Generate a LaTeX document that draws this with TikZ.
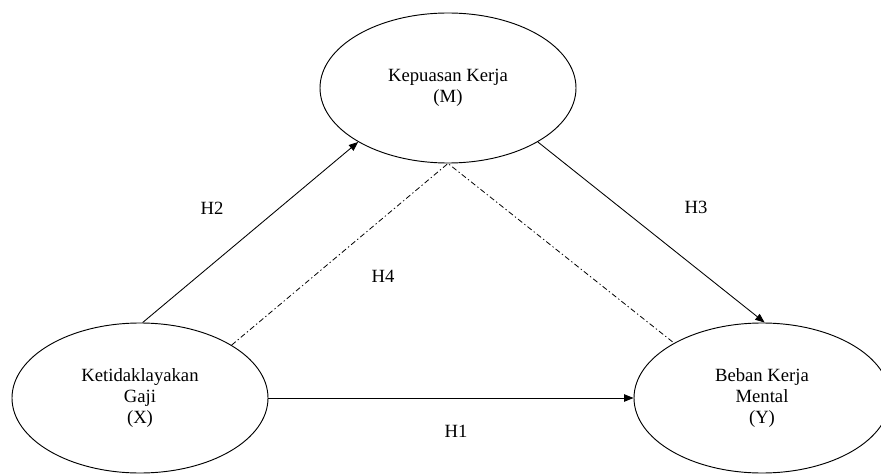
\documentclass[tikz,border=0pt]{standalone}
\usepackage{fontspec}
\setmainfont{Liberation Serif}
\usetikzlibrary{shapes.geometric,arrows.meta}
\tikzset{
	varnode/.style={draw, ellipse, line width=0.7pt, minimum width=192pt, minimum height=112.5pt, inner sep=0pt, align=center, font=\fontsize{14}{16}\selectfont},
	hlabel/.style={inner sep=0.75pt, font=\fontsize{14}{16}\selectfont},
	path arrow/.style={line width=0.65pt, -{Triangle[length=7pt,width=5.5pt]}},
	mediation/.style={line width=0.6pt, dash pattern=on 4pt off 2pt on 1pt off 2pt}
}
\begin{document}
\begin{tikzpicture}[x=0.75pt,y=0.75pt,yscale=-1,xscale=1]
		\useasboundingbox (0,0) rectangle (881,474);
		
		%Ellipses
		\node [varnode] (M) at (448,88) {Kepuasan Kerja\\(M)};
		\node [varnode] (X) at (140,398) {Ketidaklayakan\\Gaji\\(X)};
		\node [varnode] (Y) at (762,398) {Beban Kerja\\Mental\\(Y)};
		
		%Straight Lines
		\draw [path arrow] (X.88) -- (M.211);
		\draw [path arrow] (M.-31) -- (Y.88);
		\draw [path arrow] (X.east) -- (Y.west);
		%Dash-dot Lines
		\draw [mediation] (X.30) -- (M.south) -- (Y.148);
		
		% Text Node
		\node [hlabel] (h2) at (212,208) {H2};
		% Text Node
		\node [hlabel] (h3) at (696,207) {H3};
		% Text Node
		\node [hlabel] (h4) at (383,276) {H4};
		% Text Node
		\node [hlabel] (h1) at (456,431) {H1};
	\end{tikzpicture}
\end{document}
